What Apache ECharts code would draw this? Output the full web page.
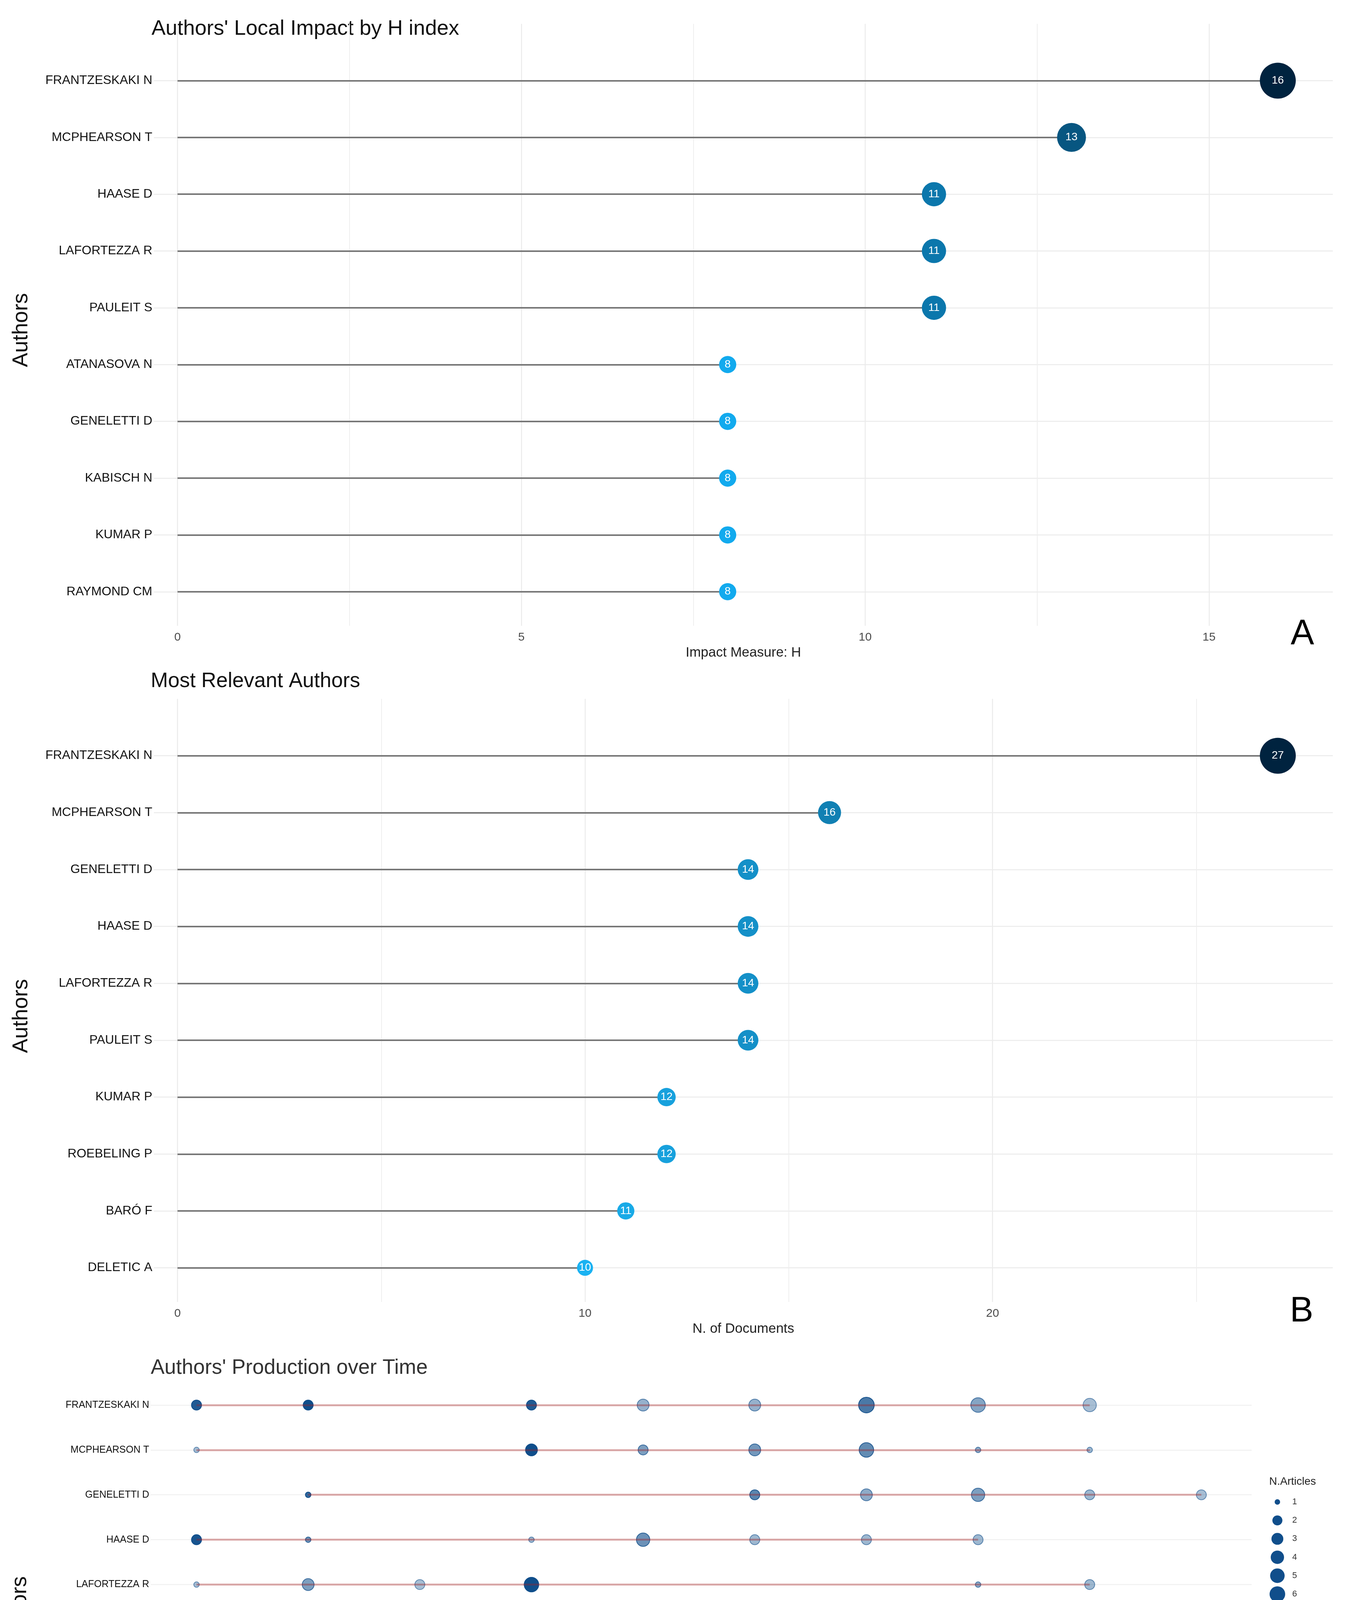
<!DOCTYPE html>
<html>
<head>
<meta charset="utf-8">
<title>Authors' impact, relevance and production</title>
<script src="https://cdn.jsdelivr.net/npm/echarts@6/dist/echarts.min.js"></script>
<style>
  html, body { margin: 0; padding: 0; background: #fff; }
  #chart { width: 3480px; height: 4880px; }
</style>
</head>
<body>
<div id="chart"></div>
<script>
// --- A: local impact by H index
var hAuthors = ['FRANTZESKAKI N', 'MCPHEARSON T', 'HAASE D', 'LAFORTEZZA R', 'PAULEIT S',
                'ATANASOVA N', 'GENELETTI D', 'KABISCH N', 'KUMAR P', 'RAYMOND CM'];
var hIndex = [16, 13, 11, 11, 11, 8, 8, 8, 8, 8];

// --- B: most relevant authors
var docAuthors = ['FRANTZESKAKI N', 'MCPHEARSON T', 'GENELETTI D', 'HAASE D', 'LAFORTEZZA R',
                  'PAULEIT S', 'KUMAR P', 'ROEBELING P', 'BARÓ F', 'DELETIC A'];
var docCounts = [27, 16, 14, 14, 14, 14, 12, 12, 11, 10];

// --- C: production over time (one row per author)
var prodAuthors = ['FRANTZESKAKI N', 'MCPHEARSON T', 'GENELETTI D', 'HAASE D', 'LAFORTEZZA R',
                   'PAULEIT S', 'KUMAR P', 'ROEBELING P', 'BARÓ F', 'DELETIC A'];
var prodYears = [
  [2016, 2017, 2019, 2020, 2021, 2022, 2023, 2024],
  [2016, 2019, 2020, 2021, 2022, 2023, 2024],
  [2017, 2021, 2022, 2023, 2024, 2025],
  [2016, 2017, 2019, 2020, 2021, 2022, 2023],
  [2016, 2017, 2018, 2019, 2023, 2024],
  [2016, 2017, 2018, 2020, 2021, 2023, 2024],
  [2019, 2021, 2023, 2024, 2025],
  [2020, 2021, 2022, 2023, 2024],
  [2016, 2017, 2020, 2021, 2022, 2024],
  [2018, 2019, 2021, 2022, 2023, 2025]
];
var prodArticles = [
  [2, 2, 2, 3, 3, 6, 5, 4],
  [1, 3, 2, 3, 5, 1, 1],
  [1, 2, 3, 4, 2, 2],
  [2, 1, 1, 4, 2, 2, 2],
  [1, 3, 2, 5, 1, 2],
  [2, 2, 1, 1, 5, 2, 1],
  [1, 4, 4, 2, 1],
  [3, 3, 2, 2, 2],
  [1, 1, 1, 2, 1, 5],
  [1, 2, 2, 2, 2, 1]
];
var prodTC = [
  [90, 100, 90, 20, 20, 65, 30, 10],
  [10, 100, 35, 40, 50, 25, 15],
  [80, 55, 25, 35, 15, 10],
  [95, 45, 15, 45, 15, 15, 15],
  [10, 35, 10, 100, 25, 15],
  [95, 60, 15, 30, 45, 15, 20],
  [15, 60, 45, 15, 15],
  [15, 15, 10, 15, 10],
  [10, 50, 40, 50, 30, 15],
  [10, 25, 15, 12, 15, 25]
];

// tick labels and legend breaks for panel C
var yearTicks = [2016, 2018, 2020, 2022, 2024];
var articleBreaks = [1, 2, 3, 4, 5, 6];
var tcBreaks = [0, 25, 50, 75, 100];

var FONT = '"Liberation Sans", Arial, sans-serif';

function articleSize(n) {
  return 8.8 + 5.2 * (1 + 5 * Math.sqrt((n - 1) / 5));
}
function tcAlpha(tc) {
  return Math.min(1, 0.3 + 0.7 * tc / 100);
}
function blue(a) {
  return 'rgba(16,78,139,' + a.toFixed(3) + ')';
}
function txt(text, x, y, size, color, align, rot) {
  return {
    type: 'text', x: x, y: y, rotation: rot || 0, silent: true,
    style: {
      text: text, fontSize: size, fontFamily: FONT, fill: color,
      align: align, textAlign: align, verticalAlign: 'middle', textVerticalAlign: 'middle'
    }
  };
}

function lollipopX(gridIndex, min, max, step, name) {
  return {
    gridIndex: gridIndex, type: 'value', min: min, max: max,
    minInterval: step, maxInterval: step, splitNumber: 4,
    axisLine: { show: false }, axisTick: { show: false },
    axisLabel: { showMinLabel: false, showMaxLabel: false, color: '#4d4d4d',
                 fontSize: 30, margin: 15, fontFamily: FONT },
    splitLine: { show: true, showMinLine: false, showMaxLine: false,
                 lineStyle: { color: '#ebebeb', width: 2.5 } },
    minorTick: { show: false, splitNumber: 2 },
    minorSplitLine: { show: true, lineStyle: { color: '#eeeeee', width: 2 } },
    name: name, nameLocation: 'middle', nameGap: 52,
    nameTextStyle: { fontSize: 35, color: '#222', fontFamily: FONT }
  };
}
function authorY(gridIndex, min, names, size) {
  return {
    gridIndex: gridIndex, type: 'value', inverse: true, min: min, max: 9.6,
    minInterval: 1, maxInterval: 1,
    axisLine: { show: false, onZero: false }, axisTick: { show: false },
    axisLabel: {
      showMinLabel: false, showMaxLabel: false, color: '#111', fontSize: size,
      margin: 4, fontFamily: FONT,
      formatter: function (v) { return names[v] || ''; }
    },
    splitLine: { show: true, showMinLine: false, showMaxLine: false,
                 lineStyle: { color: gridIndex === 2 ? '#f0f0f0' : '#ebebeb', width: 2.5 } }
  };
}

var prodPoints = [];
prodAuthors.forEach(function (name, i) {
  prodYears[i].forEach(function (yr, j) {
    var a = tcAlpha(prodTC[i][j]);
    prodPoints.push({
      value: [yr, i, prodArticles[i][j], prodTC[i][j]],
      itemStyle: { color: blue(a), borderColor: blue(Math.min(1, a + 0.2)), borderWidth: 2, opacity: 1 }
    });
  });
});

var graphics = [
  txt("Authors' Local Impact by H index", 388, 74, 54, '#111', 'left'),
  txt('Most Relevant Authors', 386, 1744, 53, '#111', 'left'),
  txt("Authors' Production over Time", 386, 3502, 53, '#333', 'left'),
  txt('Authors', 55, 845, 55, '#111', 'center', Math.PI / 2),
  txt('Authors', 55, 2601, 55, '#111', 'center', Math.PI / 2),
  txt('Authors', 52, 4130, 55, '#111', 'center', Math.PI / 2),
  txt('Year', 3031, 4784, 35, '#4d4d4d', 'center'),
  txt('A', 3335, 1624, 90, '#000', 'center'),
  txt('B', 3333, 3358, 90, '#000', 'center'),
  txt('C', 3330, 4800, 90, '#000', 'center'),
  txt('N.Articles', 3250, 3793, 28, '#222', 'left'),
  txt('TC per Year', 3250, 4179, 28, '#222', 'left')
];
articleBreaks.forEach(function (n, k) {
  var cy = 3845 + 47.2 * k;
  graphics.push({ type: 'circle', silent: true, shape: { cx: 3271, cy: cy, r: articleSize(n) / 2 },
                  style: { fill: blue(1) } });
  graphics.push(txt(String(n), 3309, cy, 22, '#333', 'left'));
});
tcBreaks.forEach(function (tc, k) {
  var cy = 4231 + 47 * k;
  var a = tcAlpha(tc);
  graphics.push({ type: 'circle', silent: true, shape: { cx: 3271, cy: cy, r: 6 },
                  style: { fill: blue(a), stroke: blue(Math.min(1, a + 0.2)), lineWidth: 2 } });
  graphics.push(txt(String(tc), 3309, cy, 22, '#333', 'left'));
});

var myChart = echarts.init(document.getElementById('chart'));
var option = {
  animation: false,
  backgroundColor: '#fff',
  textStyle: { fontFamily: FONT },
  grid: [
    { left: 394, right: 67, top: 61, bottom: 3278 },
    { left: 394, right: 67, top: 1789, bottom: 1547 },
    { left: 386, right: 275, top: 3528, bottom: 180 }
  ],
  xAxis: [
    lollipopX(0, -0.344, 16.8, 5, 'Impact Measure: H'),
    lollipopX(1, -0.58, 28.35, 10, 'N. of Documents'),
    {
      gridIndex: 2, type: 'value', min: 2015.59, max: 2025.45,
      minInterval: 2, maxInterval: 2, splitNumber: 5,
      axisLine: { show: true, onZero: false, lineStyle: { color: '#666', width: 3 } },
      axisTick: { show: true, length: 7, customValues: yearTicks,
                  lineStyle: { color: '#555', width: 3 } },
      axisLabel: {
        rotate: 90, fontWeight: 'bold', fontSize: 23, color: '#333', margin: 14,
        fontFamily: FONT, showMinLabel: false, showMaxLabel: false,
        customValues: yearTicks,
        formatter: function (v) { return v % 1 === 0 ? String(v) : ''; }
      },
      splitLine: { show: false }
    }
  ],
  yAxis: [
    authorY(0, -1, hAuthors, 32),
    authorY(1, -1, docAuthors, 32),
    authorY(2, -0.6, prodAuthors, 25)
  ],
  visualMap: [
    { show: false, seriesIndex: 1, dimension: 0,
      min: Math.min.apply(null, hIndex), max: Math.max.apply(null, hIndex),
      inRange: { color: ['#12aaee', '#00233f'], symbolSize: [44, 92] } },
    { show: false, seriesIndex: 3, dimension: 0,
      min: Math.min.apply(null, docCounts), max: Math.max.apply(null, docCounts),
      inRange: { color: ['#1ab2f2', '#00233f'], symbolSize: [41, 92] } }
  ],
  series: [
    {
      type: 'lines', coordinateSystem: 'cartesian2d', xAxisIndex: 0, yAxisIndex: 0,
      silent: true, z: 2,
      lineStyle: { color: '#777', width: 4, opacity: 1 },
      data: hIndex.map(function (v, i) { return { coords: [[0, i], [v, i]] }; })
    },
    {
      type: 'scatter', xAxisIndex: 0, yAxisIndex: 0, symbol: 'circle', silent: true, z: 3,
      itemStyle: { opacity: 1 },
      data: hIndex.map(function (v, i) { return [v, i]; }),
      label: { show: true, position: 'inside', color: '#fff', fontSize: 28, fontFamily: FONT,
               formatter: function (p) { return p.value[0]; } }
    },
    {
      type: 'lines', coordinateSystem: 'cartesian2d', xAxisIndex: 1, yAxisIndex: 1,
      silent: true, z: 2,
      lineStyle: { color: '#777', width: 4, opacity: 1 },
      data: docCounts.map(function (v, i) { return { coords: [[0, i], [v, i]] }; })
    },
    {
      type: 'scatter', xAxisIndex: 1, yAxisIndex: 1, symbol: 'circle', silent: true, z: 3,
      itemStyle: { opacity: 1 },
      data: docCounts.map(function (v, i) { return [v, i]; }),
      label: { show: true, position: 'inside', color: '#fff', fontSize: 28, fontFamily: FONT,
               formatter: function (p) { return p.value[0]; } }
    },
    {
      type: 'scatter', xAxisIndex: 2, yAxisIndex: 2, symbol: 'circle', silent: true, z: 3,
      itemStyle: { opacity: 1 },
      symbolSize: function (val) { return articleSize(val[2]); },
      data: prodPoints
    },
    {
      type: 'lines', coordinateSystem: 'cartesian2d', xAxisIndex: 2, yAxisIndex: 2,
      silent: true, z: 4,
      lineStyle: { color: 'rgba(165,30,30,0.36)', width: 5, opacity: 1 },
      data: prodYears.map(function (ys, i) {
        return { coords: [[ys[0], i], [ys[ys.length - 1], i]] };
      })
    }
  ],
  graphic: graphics
};

if (option && typeof option === 'object') {
  myChart.setOption(option, true);
}
</script>
</body>
</html>
